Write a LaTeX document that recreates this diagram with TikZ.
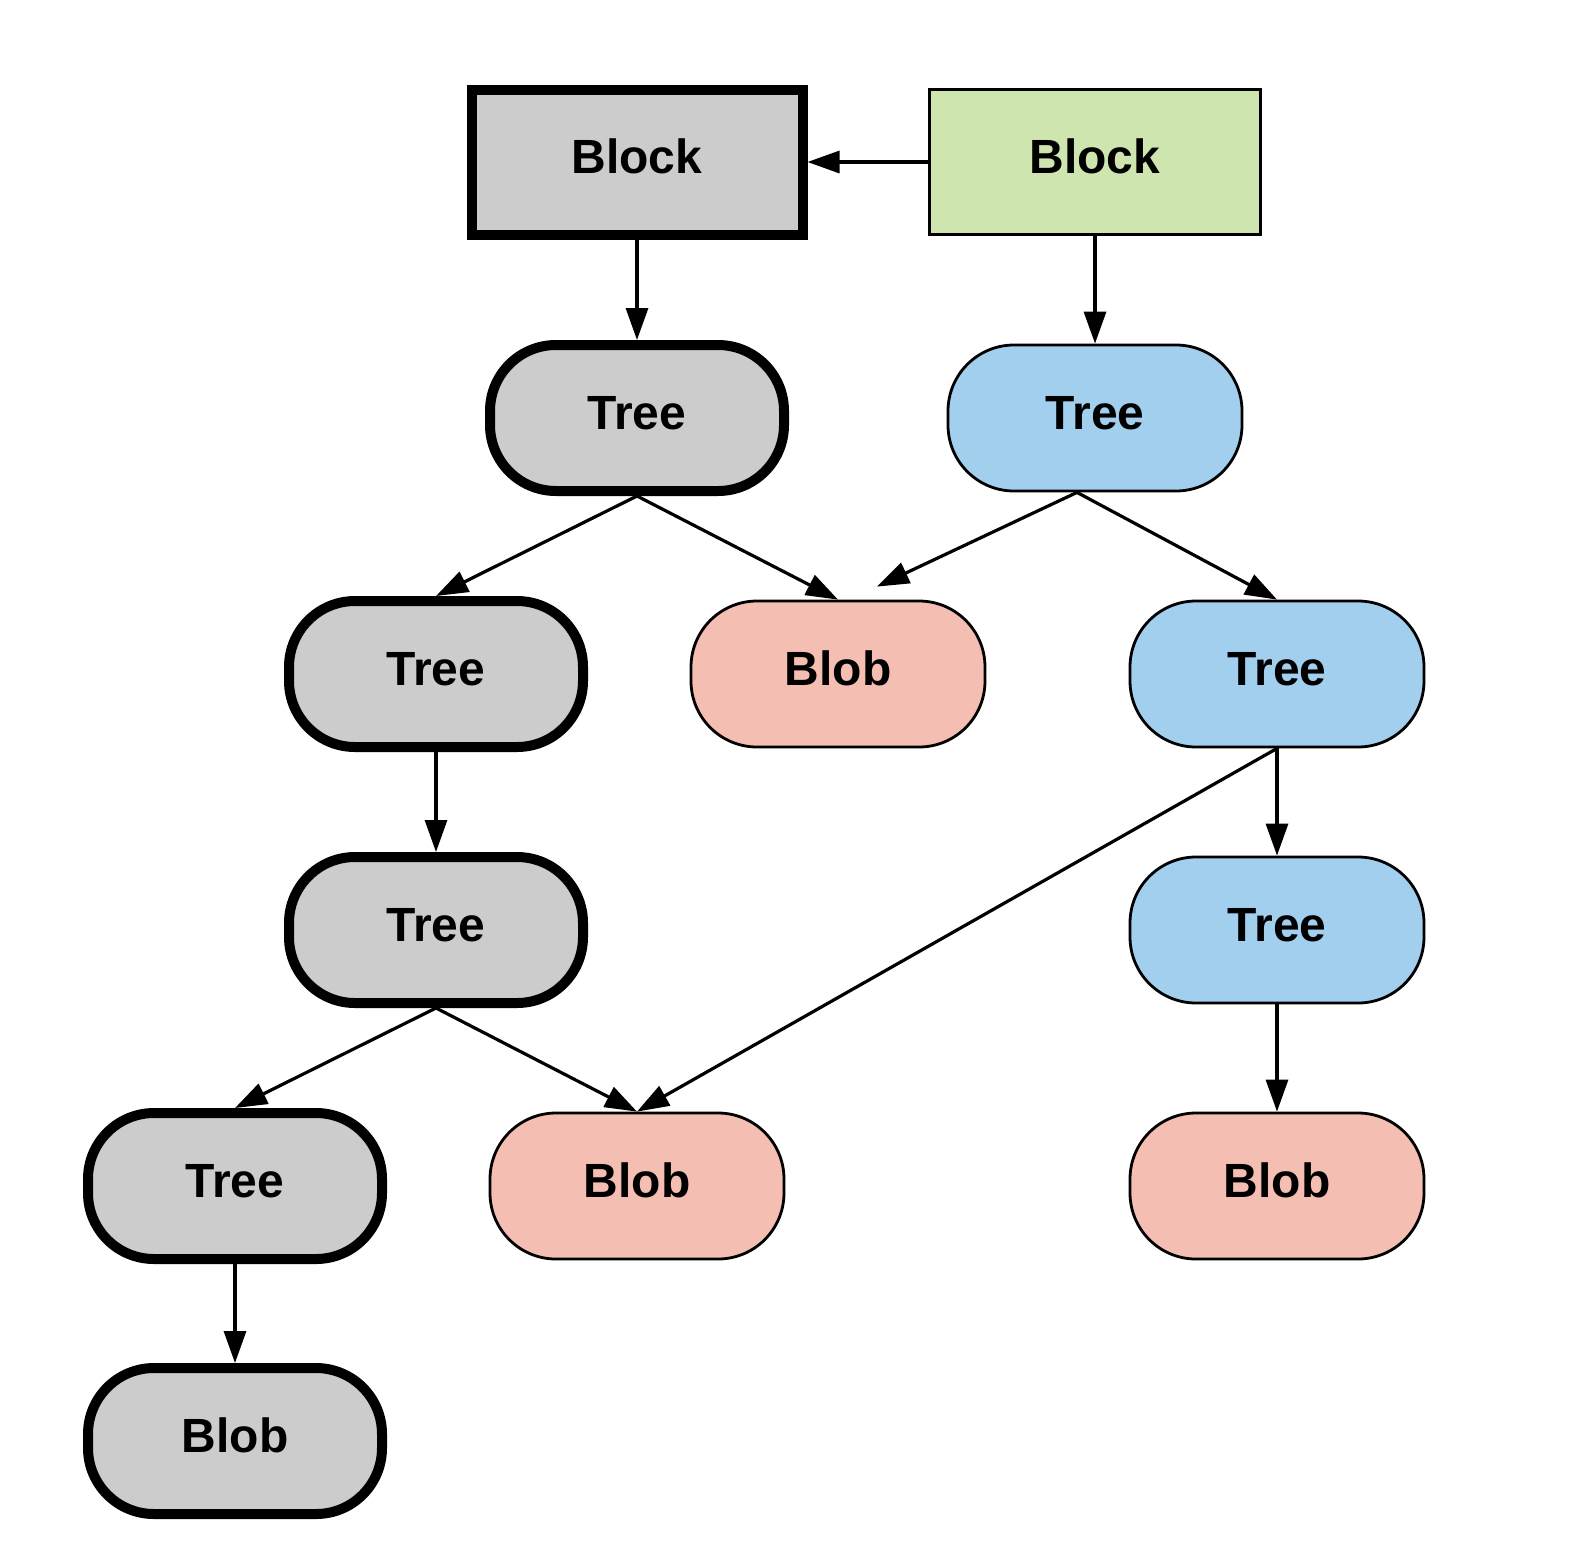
\documentclass[tikz,border=0pt]{standalone}
\usepackage{fontspec}
\setmainfont{Liberation Sans}
\usetikzlibrary{arrows.meta}

\definecolor{boxgrey}{HTML}{CCCCCC}
\definecolor{boxgreen}{HTML}{CFE5B0}
\definecolor{boxblue}{HTML}{A3CFEE}
\definecolor{boxpink}{HTML}{F4BEB2}

\tikzset{
  base/.style={draw=black, inner sep=0pt, text height=34pt, text depth=12pt,
    font=\fontsize{48}{52}\selectfont\bfseries},
  blockbox/.style={base, rectangle, minimum width=331pt, minimum height=145pt},
  roundbox/.style={base, rectangle, rounded corners=66pt, minimum width=294pt, minimum height=146pt},
  heavy/.style={line width=10pt, fill=boxgrey},
  light/.style={line width=2.8pt},
  link/.style={line width=3.2pt, -{Triangle[length=32pt, width=22pt]}},
}

\begin{document}
\begin{tikzpicture}[x=1pt, y=-1pt]
\useasboundingbox (0,0) rectangle (1570,1566);

% blocks
\node[blockbox, heavy] (blkA) at (637,162) {Block};
\node[blockbox, light, fill=boxgreen] (blkB) at (1095,162) {Block};

% trees and blobs
\node[roundbox, heavy] (treeA1) at (637,418) {Tree};
\node[roundbox, light, fill=boxblue] (treeB1) at (1095,418) {Tree};
\node[roundbox, heavy] (treeA2) at (436,674) {Tree};
\node[roundbox, light, fill=boxpink] (blob1) at (838,674) {Blob};
\node[roundbox, light, fill=boxblue] (treeB2) at (1277,674) {Tree};
\node[roundbox, heavy] (treeA3) at (436,930) {Tree};
\node[roundbox, light, fill=boxblue] (treeB3) at (1277,930) {Tree};
\node[roundbox, heavy] (treeA4) at (235,1186) {Tree};
\node[roundbox, light, fill=boxpink] (blob2) at (637,1186) {Blob};
\node[roundbox, light, fill=boxpink] (blob3) at (1277,1186) {Blob};
\node[roundbox, heavy] (blobA) at (235,1441) {Blob};

% connectors
\draw[link] (blkB.west) -- (blkA.east);
\draw[link] (blkA.south) -- (treeA1.north);
\draw[link] (blkB.south) -- (treeB1.north);
\draw[link] (treeA1.south) -- (treeA2.north);
\draw[link] (treeA1.south) -- (blob1.north);
\draw[link] ([xshift=-18pt]treeB1.south) -- ([xshift=39pt,yshift=13pt]blob1.north);
\draw[link] ([xshift=-18pt]treeB1.south) -- (treeB2.north);
\draw[link] (treeA2.south) -- (treeA3.north);
\draw[link] (treeB2.south) -- (treeB3.north);
\draw[link] (treeB2.south) -- (blob2.north);
\draw[link] (treeA3.south) -- (treeA4.north);
\draw[link] (treeA3.south) -- (blob2.north);
\draw[link] (treeB3.south) -- (blob3.north);
\draw[link] (treeA4.south) -- (blobA.north);
\end{tikzpicture}
\end{document}
